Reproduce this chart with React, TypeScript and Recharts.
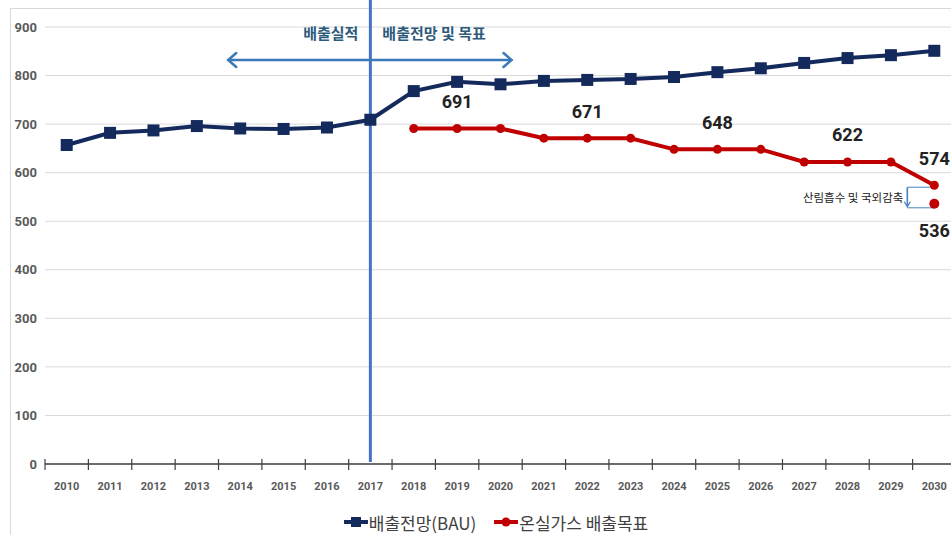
import React from 'react';
import { LineChart, Line, XAxis, YAxis, CartesianGrid, Legend, ReferenceLine, LabelList } from 'recharts';

const years = ['2010', '2011', '2012', '2013', '2014', '2015', '2016', '2017', '2018', '2019', '2020',
  '2021', '2022', '2023', '2024', '2025', '2026', '2027', '2028', '2029', '2030'];
const bau = [657, 682, 687, 696, 691, 690, 693, 709, 768, 787, 782, 789, 791, 793, 797, 807, 815, 826, 836, 842, 851];
const target = [null, null, null, null, null, null, null, null, 691, 691, 691, 671, 671, 671, 648, 648, 648, 622, 622, 622, 574];
const netTarget = [null, null, null, null, null, null, null, null, null, null, null,
  null, null, null, null, null, null, null, null, null, 536];
const labeledYears = ['2019', '2022', '2025', '2028', '2030'];
const yTicks = [0, 100, 200, 300, 400, 500, 600, 700, 800, 900];

const data = years.map((year, i) => ({ year, bau: bau[i], target: target[i], net: netTarget[i] }));

const NAVY = '#142a5c';
const RED = '#c00000';
const NUM_FONT = '"Liberation Sans Narrow", Roboto, sans-serif';
const KR_FONT = '"Noto Sans CJK KR", sans-serif';

const XTick = (props: any) => {
  const { x, y, payload } = props;
  const half = payload && payload.offset ? payload.offset : 21.6;
  const axisY = y - 8;
  return (
    <g>
      <line x1={x - half} x2={x - half} y1={axisY - 5} y2={axisY + 6} stroke="#404040" strokeWidth={1.2} />
      <text x={x} y={axisY + 22} textAnchor="middle" dominantBaseline="central"
        fontFamily={NUM_FONT} fontWeight="bold" fontSize={11} fill="#595959">{payload.value}</text>
    </g>
  );
};

const SquareDot = (props: any) => {
  const { cx, cy } = props;
  if (cx == null || cy == null) return null;
  return <rect x={cx - 6} y={cy - 6} width={12} height={12} fill={NAVY} />;
};

const DividerShape = (props: any) => {
  const { x1, y1, y2 } = props;
  return (
    <g>
      <line x1={x1} x2={x1} y1={y1} y2={y2} stroke="#4472c4" strokeWidth={3} />
      <text x={x1 - 12} y={32} textAnchor="end" dominantBaseline="central" fontFamily={KR_FONT}
        fontWeight="bold" fontSize={15} fill="#2e5a7c">배출실적</text>
      <text x={x1 + 12} y={32} textAnchor="start" dominantBaseline="central" fontFamily={KR_FONT}
        fontWeight="bold" fontSize={15} fill="#2e5a7c">배출전망 및 목표</text>
    </g>
  );
};

const ArrowShape = (props: any) => {
  const { x1, x2, y1 } = props;
  const l = x1 - 12;
  const r = x2 + 11;
  return (
    <g stroke="#3a7ab8" strokeWidth={2.5} fill="none" strokeLinecap="round">
      <line x1={l} x2={r} y1={y1} y2={y1} />
      <polyline points={`${l + 8},${y1 - 7} ${l},${y1} ${l + 8},${y1 + 7}`} />
      <polyline points={`${r - 8},${y1 - 7} ${r},${y1} ${r - 8},${y1 + 7}`} />
    </g>
  );
};

const BracketShape = (props: any) => {
  const { x1, y1, y2 } = props;
  const bx = x1 - 27;
  return (
    <g>
      <g stroke="#6fa0d0" strokeWidth={1.3} fill="none">
        <line x1={bx} x2={x1} y1={y1 + 2} y2={y1 + 2} />
        <line x1={bx} x2={x1} y1={y2 + 4} y2={y2 + 4} />
        <line x1={bx} x2={bx} y1={y1 + 2} y2={y2 + 2} stroke="#4a7fc0" strokeWidth={1.6} />
        <polyline points={`${bx - 3},${y2 - 2} ${bx},${y2 + 3} ${bx + 3},${y2 - 2}`} stroke="#4a7fc0" />
      </g>
      <text x={bx - 4} y={(y1 + y2) / 2 + 2} textAnchor="end" dominantBaseline="central"
        fontFamily={KR_FONT} fontSize={11.5} fill="#222">산림흡수 및 국외감축</text>
    </g>
  );
};

const targetLabel = (props: any) => {
  const { x, y, value, index } = props;
  if (!labeledYears.includes(years[index])) return null;
  return (
    <text x={x} y={y - 27} textAnchor="middle" dominantBaseline="central" fontFamily={NUM_FONT}
      fontWeight="bold" fontSize={18} fill="#222">{value}</text>
  );
};

const netLabel = (props: any) => {
  const { x, y, value } = props;
  if (value == null) return null;
  return (
    <text x={x} y={y + 27} textAnchor="middle" dominantBaseline="central" fontFamily={NUM_FONT}
      fontWeight="bold" fontSize={18} fill="#222">{value}</text>
  );
};

const LegendContent = () => (
  <div style={{ display: 'flex', justifyContent: 'center', alignItems: 'center', height: 26, paddingLeft: 36,
    fontFamily: KR_FONT, fontSize: 17, color: '#404040' }}>
    <span style={{ display: 'flex', alignItems: 'center', marginRight: 18 }}>
      <svg width={24} height={14}>
        <line x1={0} x2={24} y1={7} y2={7} stroke={NAVY} strokeWidth={4} />
        <rect x={7} y={2} width={10} height={10} fill={NAVY} />
      </svg>
      <span style={{ marginLeft: 1 }}>배출전망(BAU)</span>
    </span>
    <span style={{ display: 'flex', alignItems: 'center' }}>
      <svg width={24} height={14}>
        <line x1={0} x2={24} y1={7} y2={7} stroke={RED} strokeWidth={4} />
        <circle cx={12} cy={7} r={4.5} fill={RED} />
      </svg>
      <span style={{ marginLeft: 1 }}>온실가스 배출목표</span>
    </span>
  </div>
);

export default function App() {
  return (
    <div style={{ position: 'absolute', left: 0, top: 0, width: 951, height: 535, overflow: 'hidden', background: '#fff' }}>
      <div style={{ position: 'absolute', left: 10, top: 8, width: 960, height: 540, borderLeft: '1px solid #d9d9d9', borderTop: '1px solid #d9d9d9' }} />
      <LineChart width={956} height={535} data={data} margin={{ top: 27, right: 0, left: 0, bottom: 0 }}>
        <CartesianGrid vertical={false} stroke="#d9d9d9" />
        <XAxis dataKey="year" scale="band" height={45} tick={<XTick />} tickLine={false} tickSize={6} tickMargin={2}
          axisLine={{ stroke: '#404040', strokeWidth: 1.5 }} interval={0} />
        <YAxis width={45} domain={[0, 900]} ticks={yTicks} axisLine={false} tickLine={false}
          tick={{ fontFamily: NUM_FONT, fontWeight: 'bold', fontSize: 13, fill: '#595959' }} />
        <Legend verticalAlign="bottom" content={<LegendContent />} />
        <ReferenceLine segment={[{ x: '2017', y: 960 }, { x: '2017', y: 4 }]} ifOverflow="visible" shape={<DividerShape />} />
        <ReferenceLine segment={[{ x: '2014', y: 832 }, { x: '2020', y: 832 }]} ifOverflow="visible" shape={<ArrowShape />} />
        <ReferenceLine segment={[{ x: '2030', y: 574 }, { x: '2030', y: 536 }]} ifOverflow="visible" shape={<BracketShape />} />
        <Line type="linear" dataKey="bau" stroke={NAVY} strokeWidth={4} dot={<SquareDot />} isAnimationActive={false} />
        <Line type="linear" dataKey="target" stroke={RED} strokeWidth={4} connectNulls={false}
          dot={{ r: 4.5, fill: RED, stroke: RED, strokeWidth: 0 }} isAnimationActive={false}>
          <LabelList dataKey="target" content={targetLabel} />
        </Line>
        <Line type="linear" dataKey="net" stroke="none" dot={{ r: 5, fill: RED, stroke: RED, strokeWidth: 0 }}
          legendType="none" isAnimationActive={false}>
          <LabelList dataKey="net" content={netLabel} />
        </Line>
      </LineChart>
    </div>
  );
}
